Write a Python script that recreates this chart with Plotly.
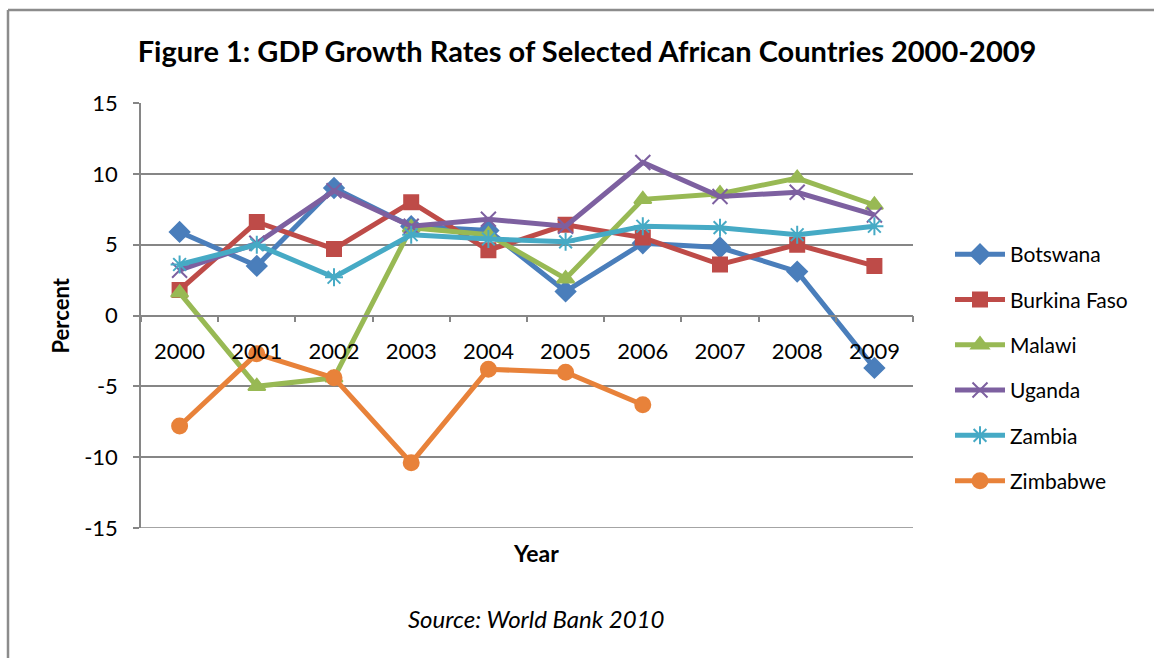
import plotly.graph_objects as go

years = ["2000", "2001", "2002", "2003", "2004", "2005", "2006", "2007", "2008", "2009"]
botswana = [5.9, 3.5, 9.0, 6.3, 6.0, 1.7, 5.1, 4.8, 3.1, -3.7]
burkina_faso = [1.8, 6.6, 4.7, 8.0, 4.6, 6.4, 5.5, 3.6, 5.0, 3.5]
malawi = [1.6, -5.0, -4.4, 6.2, 5.7, 2.6, 8.2, 8.6, 9.7, 7.8]
uganda = [3.2, 5.1, 8.8, 6.3, 6.8, 6.3, 10.8, 8.4, 8.7, 7.1]
zambia = [3.6, 5.0, 2.7, 5.7, 5.4, 5.2, 6.3, 6.2, 5.7, 6.3]
zimbabwe = [-7.8, -2.7, -4.4, -10.4, -3.8, -4.0, -6.3, None, None, None]
y_ticks = [-15, -10, -5, 0, 5, 10, 15]

series = [
    ("Botswana", botswana, "#4A7EBB", "diamond", 15),
    ("Burkina Faso", burkina_faso, "#BE4B48", "square", 14),
    ("Malawi", malawi, "#98B954", "triangle-up", 15),
    ("Uganda", uganda, "#7D60A0", "x-thin-open", 15),
    ("Zambia", zambia, "#46AAC5", "asterisk-open", 15),
    ("Zimbabwe", zimbabwe, "#E8823A", "circle", 15),
]

FONT = "Lato"
W, H = 1154, 658
L, R, T, B = 141, 241, 103, 130
PW, PH = W - L - R, H - T - B
GRID = "#868686"

def px(x):
    return (x - L) / PW

def py(y):
    return (H - B - y) / PH

fig = go.Figure()
for i, (name, vals, col, sym, size) in enumerate(series):
    fig.add_trace(go.Scatter(
        x=years, y=vals, name=name, mode="lines+markers",
        line=dict(color=col, width=5),
        marker=dict(symbol=sym, size=size, color=col,
                    line=dict(color=col, width=2)),
        legendgroup=f"g{i}",
        connectgaps=False,
    ))

fig.update_layout(
    width=W, height=H,
    margin=dict(l=L, r=R, t=T, b=B),
    paper_bgcolor="white", plot_bgcolor="white",
    font=dict(family=FONT, color="black", size=20),
    title=dict(text="<b>Figure 1: GDP Growth Rates of Selected African Countries 2000-2009</b>",
               font=dict(family=FONT, size=29, color="black"),
               x=px(587), xref="paper", xanchor="center",
               y=1 - 52 / H, yanchor="middle"),
    xaxis=dict(type="category", range=[-0.5, 9.5], anchor="free", position=0.5,
               showline=True, linecolor=GRID, linewidth=1.5,
               ticks="outside", tickson="boundaries", ticklen=6, tickcolor=GRID, tickwidth=1.5,
               showgrid=False, tickfont=dict(size=22, family=FONT),
               ticklabelstandoff=16, zeroline=False),
    yaxis=dict(range=[-15, 15], tickvals=y_ticks, ticktext=[str(v) for v in y_ticks],
               showline=True, linecolor=GRID, linewidth=1.5,
               ticks="outside", ticklen=6, tickcolor=GRID, tickwidth=1.5,
               showgrid=True, gridcolor=GRID, gridwidth=1.5,
               zeroline=False, tickfont=dict(size=22, family=FONT),
               ticklabelstandoff=11),
    legend=dict(x=px(950), y=py(234), xanchor="left", yanchor="top",
                font=dict(size=21, family=FONT), tracegroupgap=15,
                bgcolor="rgba(0,0,0,0)", itemwidth=50),
    showlegend=True,
    annotations=[
        dict(text="<b>Percent</b>", x=px(60), y=0.5, xref="paper", yref="paper",
             textangle=-90, showarrow=False, font=dict(size=22, family=FONT),
             xanchor="center", yanchor="middle"),
        dict(text="<b>Year</b>", x=px(536), y=py(553), xref="paper", yref="paper",
             showarrow=False, font=dict(size=23, family=FONT),
             xanchor="center", yanchor="middle"),
        dict(text="<i>Source: World Bank 2010</i>", x=px(536), y=py(618), xref="paper", yref="paper",
             showarrow=False, font=dict(size=24, family=FONT),
             xanchor="center", yanchor="middle"),
    ],
    shapes=[
        dict(type="line", xref="paper", yref="y", x0=0, x1=1, y0=-15, y1=-15,
             line=dict(color=GRID, width=1.5), layer="below"),
        dict(type="line", xref="paper", yref="paper", x0=px(8), x1=px(W + 5), y0=py(10), y1=py(10),
             line=dict(color="#8C8C8C", width=2.5)),
        dict(type="line", xref="paper", yref="paper", x0=px(8), x1=px(8), y0=py(10), y1=py(H + 5),
             line=dict(color="#8C8C8C", width=2.5)),
    ],
)

fig.write_html("out.html")
